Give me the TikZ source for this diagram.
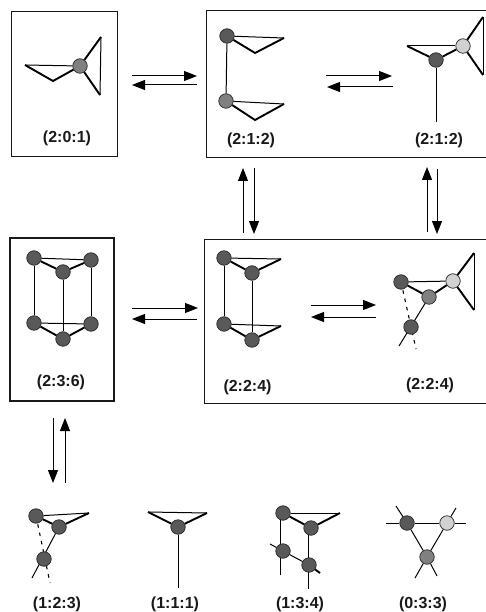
\documentclass[tikz,border=0pt]{standalone}
\usepackage{fontspec}
\setmainfont{Liberation Sans}
\usetikzlibrary{arrows.meta}
\tikzset{
  x=1pt,y=-1pt,
  panel/.style={draw=black!90,line width=1pt,fill=none},
  panelthick/.style={draw=black!90,line width=1.9pt,fill=none},
  atomD/.style={circle,draw=black!85,line width=0.7pt,fill=black!65,minimum size=14.5pt,inner sep=0pt},
  atomM/.style={circle,draw=black!85,line width=0.7pt,fill=black!50,minimum size=14.5pt,inner sep=0pt},
  atomL/.style={circle,draw=black!85,line width=0.7pt,fill=black!18,minimum size=14.5pt,inner sep=0pt},
  thinb/.style={draw=black,line width=1pt},
  thickb/.style={draw=black,line width=1.9pt},
  dashb/.style={draw=black,line width=1.1pt,dash pattern=on 3.5pt off 5pt},
  lab/.style={font=\fontsize{16}{18}\selectfont\bfseries,inner sep=0pt,text=black!90},
  rx/.style={draw=black,line width=1pt,-{Triangle[length=13pt,width=10pt]}}
}
\begin{document}
\begin{tikzpicture}
\useasboundingbox (0,0) rectangle (486,612);
% panels
\coordinate (p1a) at (11,12);
\coordinate (p1b) at (117,157);
\draw[panel] (p1a) rectangle (p1b);
\coordinate (p2a) at (206,11);
\coordinate (p2b) at (206,158);
\coordinate (p2c) at (486,11);
\coordinate (p2d) at (486,158);
\draw[panel] (p2c) -- (p2a) -- (p2b) -- (p2d);
\coordinate (p3a) at (10,238);
\coordinate (p3b) at (114,401);
\draw[panelthick] (p3a) rectangle (p3b);
\coordinate (p4a) at (204,239);
\coordinate (p4b) at (204,403);
\coordinate (p4c) at (486,239);
\coordinate (p4d) at (486,403);
\draw[panel] (p4c) -- (p4a) -- (p4b) -- (p4d);

% (2:0:1)
\node[atomM] (a1) at (80,66) {};
\coordinate (a1t) at (25,65);
\coordinate (a1b) at (53,81);
\coordinate (a1u) at (101,37);
\coordinate (a1d) at (100,95);
\draw[thinb] (a1t) -- (a1);
\draw[thickb] (a1t) -- (a1b) -- (a1);
\draw[thickb] (a1) -- (a1u);
\draw[thickb] (a1) -- (a1d);
\draw[thinb] (a1u) -- (a1d);
\node[lab] (l1) at (67,138) {(2:0:1)};

% (2:1:2) left
\node[atomD] (b1) at (227,36) {};
\node[atomM] (b2) at (226,101) {};
\coordinate (b1r) at (284,38);
\coordinate (b1m) at (255,53);
\coordinate (b2r) at (284,104);
\coordinate (b2m) at (255,120);
\draw[thinb] (b1) -- (b2);
\draw[thinb] (b1) -- (b1r);
\draw[thickb] (b1) -- (b1m) -- (b1r);
\draw[thinb] (b2) -- (b2r);
\draw[thickb] (b2) -- (b2m) -- (b2r);
\node[lab] (l2) at (251,140) {(2:1:2)};

% (2:1:2) right
\node[atomD] (c1) at (436,60) {};
\node[atomL] (c2) at (463,46) {};
\coordinate (c1l) at (407,46);
\coordinate (c2u) at (483,17);
\coordinate (c2d) at (483,75);
\coordinate (c1d) at (436,122);
\draw[thinb] (c1l) -- (c2);
\draw[thickb] (c1l) -- (c1);
\draw[thickb] (c1) -- (c2);
\draw[thickb] (c2) -- (c2u);
\draw[thickb] (c2) -- (c2d);
\draw[thinb] (c2u) -- (c2d);
\draw[thinb] (c1) -- (c1d);
\node[lab] (l3) at (439,140) {(2:1:2)};

% (2:3:6)
\node[atomD] (d1) at (34,258) {};
\node[atomD] (d2) at (91,260) {};
\node[atomD] (d3) at (63,272) {};
\node[atomD] (d4) at (34,323) {};
\node[atomD] (d5) at (91,324) {};
\node[atomD] (d6) at (63,339) {};
\draw[thinb] (d1) -- (d2);
\draw[thickb] (d1) -- (d3);
\draw[thickb] (d3) -- (d2);
\draw[thinb] (d4) -- (d5);
\draw[thickb] (d4) -- (d6);
\draw[thickb] (d6) -- (d5);
\draw[thinb] (d1) -- (d4);
\draw[thinb] (d2) -- (d5);
\draw[thinb] (d3) -- (d6);
\node[lab] (l4) at (61,382) {(2:3:6)};

% (2:2:4) left
\node[atomD] (e1) at (224,258) {};
\node[atomD] (e2) at (252,273) {};
\node[atomD] (e3) at (224,324) {};
\node[atomD] (e4) at (252,340) {};
\coordinate (e1r) at (281,259);
\coordinate (e3r) at (281,326);
\draw[thinb] (e1) -- (e1r);
\draw[thickb] (e1) -- (e2);
\draw[thickb] (e2) -- (e1r);
\draw[thinb] (e3) -- (e3r);
\draw[thickb] (e3) -- (e4);
\draw[thickb] (e4) -- (e3r);
\draw[thinb] (e1) -- (e3);
\draw[thinb] (e2) -- (e4);
\node[lab] (l5) at (247.5,387) {(2:2:4)};

% (2:2:4) right
\coordinate (f3d) at (399,346);
\coordinate (f1d) at (416,349);
\coordinate (f4u) at (474,253);
\coordinate (f4d) at (474,310);
\coordinate (f1c) at (401,282);
\coordinate (f2c) at (429,297);
\draw[dashb] (f1c) -- (f1d);
\draw[thinb] (f2c) -- (f3d);
\node[atomD] (f1) at (f1c) {};
\node[atomM] (f2) at (f2c) {};
\node[atomL] (f4) at (453,281) {};
\node[atomD] (f3) at (411,327) {};
\draw[thinb] (f1) -- (f4);
\draw[thickb] (f1) -- (f2);
\draw[thickb] (f2) -- (f4);
\draw[thickb] (f4) -- (f4u);
\draw[thickb] (f4) -- (f4d);
\draw[thinb] (f4u) -- (f4d);
\node[lab] (l6) at (430,385) {(2:2:4)};

% (1:2:3)
\coordinate (g1t) at (89,513);
\coordinate (g3d) at (32,578);
\coordinate (g1d) at (50,583);
\coordinate (g1c) at (36,516);
\coordinate (g2c) at (59,527);
\draw[dashb] (g1c) -- (g1d);
\draw[thinb] (g2c) -- (g3d);
\node[atomD] (g1) at (g1c) {};
\node[atomD] (g2) at (g2c) {};
\node[atomD] (g3) at (44,559) {};
\draw[thinb] (g1) -- (g1t);
\draw[thickb] (g1) -- (g2);
\draw[thickb] (g2) -- (g1t);
\node[lab] (l7) at (57,604) {(1:2:3)};

% (1:1:1)
\node[atomD] (h1) at (178,527) {};
\coordinate (h1l) at (148,512);
\coordinate (h1r) at (207,513);
\coordinate (h1d) at (178,588);
\draw[thinb] (h1l) -- (h1r);
\draw[thickb] (h1l) -- (h1);
\draw[thickb] (h1) -- (h1r);
\draw[thinb] (h1) -- (h1d);
\node[lab] (l8) at (175,604) {(1:1:1)};

% (1:3:4)
\coordinate (k1t) at (340,513);
\coordinate (k1d) at (280,575);
\coordinate (k2d) at (308,589);
\coordinate (k3l) at (270,544);
\coordinate (k4r) at (320,573);
\coordinate (k1u) at (280,513);
\coordinate (k2u) at (308,528);
\draw[thinb] (k1u) -- (k1d);
\draw[thinb] (k2u) -- (k2d);
\node[atomD] (k1) at (283,513) {};
\node[atomD] (k2) at (311,528) {};
\node[atomD] (k3) at (283,551) {};
\node[atomD] (k4) at (309,565) {};
\draw[thinb] (k1) -- (k1t);
\draw[thickb] (k1) -- (k2);
\draw[thickb] (k2) -- (k1t);
\draw[thinb] (k3l) -- (k3);
\draw[thinb] (k3) -- (k4);
\draw[thickb] (k4) -- (k4r);
\node[lab] (l9) at (300,604) {(1:3:4)};

% (0:3:3)
\node[atomD] (m1) at (407,523) {};
\node[atomL] (m2) at (447,523) {};
\node[atomM] (m3) at (427,557) {};
\coordinate (m1a) at (396,506);
\coordinate (m1b) at (386,523);
\coordinate (m2a) at (456,508);
\coordinate (m2b) at (466,523);
\coordinate (m3a) at (415,578);
\coordinate (m3b) at (437,576);
\draw[thinb] (m1) -- (m2);
\draw[thinb] (m1) -- (m3);
\draw[thinb] (m2) -- (m3);
\draw[thinb] (m1) -- (m1a);
\draw[thinb] (m1) -- (m1b);
\draw[thinb] (m2) -- (m2a);
\draw[thinb] (m2) -- (m2b);
\draw[thinb] (m3) -- (m3a);
\draw[thinb] (m3) -- (m3b);
\node[lab] (l10) at (423,604) {(0:3:3)};

% equilibrium arrows
\coordinate (r1a) at (132,76); \coordinate (r1b) at (197,76);
\coordinate (r1c) at (197,85); \coordinate (r1d) at (132,85);
\draw[rx] (r1a) -- (r1b); \draw[rx] (r1c) -- (r1d);
\coordinate (r2a) at (326,76); \coordinate (r2b) at (392,76);
\coordinate (r2c) at (393,87); \coordinate (r2d) at (327,87);
\draw[rx] (r2a) -- (r2b); \draw[rx] (r2c) -- (r2d);
\coordinate (r3a) at (132,308); \coordinate (r3b) at (198,308);
\coordinate (r3c) at (197,319); \coordinate (r3d) at (132,319);
\draw[rx] (r3a) -- (r3b); \draw[rx] (r3c) -- (r3d);
\coordinate (r4a) at (311,305); \coordinate (r4b) at (376,305);
\coordinate (r4c) at (376,317); \coordinate (r4d) at (311,317);
\draw[rx] (r4a) -- (r4b); \draw[rx] (r4c) -- (r4d);
\coordinate (v1a) at (243,233); \coordinate (v1b) at (243,168);
\coordinate (v1c) at (254,168); \coordinate (v1d) at (254,234);
\draw[rx] (v1a) -- (v1b); \draw[rx] (v1c) -- (v1d);
\coordinate (v2a) at (427,232); \coordinate (v2b) at (427,167);
\coordinate (v2c) at (437,169); \coordinate (v2d) at (437,234);
\draw[rx] (v2a) -- (v2b); \draw[rx] (v2c) -- (v2d);
\coordinate (v3a) at (53,418); \coordinate (v3b) at (53,483);
\coordinate (v3c) at (65,483); \coordinate (v3d) at (65,418);
\draw[rx] (v3a) -- (v3b); \draw[rx] (v3c) -- (v3d);
\end{tikzpicture}
\end{document}
